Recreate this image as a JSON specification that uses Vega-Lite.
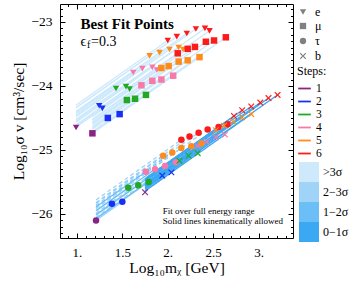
{
 "$schema": "https://vega.github.io/schema/vega-lite/v6.json",
 "width": 233, "height": 234,
 "autosize": {"type": "none"},
 "padding": {"left": 60, "top": 4, "right": 57, "bottom": 50},
 "config": {
  "view": {"stroke": "black", "strokeWidth": 1},
  "font": "Liberation Serif",
  "axis": {"grid": false, "domain": false, "tickColor": "black", "labelColor": "black", "titleColor": "black", "labelFont": "Liberation Serif", "titleFont": "Liberation Serif", "titleFontWeight": "normal"},
  "legend": {"labelFont": "Liberation Serif", "titleFont": "Liberation Serif", "labelFontSize": 12, "titleFontSize": 12, "titleFontWeight": "normal", "labelColor": "black", "titleColor": "black", "symbolBaseFillColor": "#808080", "symbolBaseStrokeColor": "transparent"},
  "text": {"font": "Liberation Serif", "color": "black"}
 },
 "resolve": {"axis": {"x": "independent", "y": "independent"}},
 "datasets": {
  "pts": [
   {"f":"e","s":"1","x":0.99,"y":-24.65,"x0":0.99,"y0":-24.65,"sig":">3σ","d":"solid"},
   {"f":"e","s":"2","x":1.245,"y":-24.31,"x0":0.99,"y0":-24.565,"sig":">3σ","d":"solid"},
   {"f":"e","s":"2","x":1.28,"y":-24.35,"x0":0.99,"y0":-24.64,"sig":">3σ","d":"solid"},
   {"f":"e","s":"3","x":1.43,"y":-24.04,"x0":0.99,"y0":-24.48,"sig":">3σ","d":"solid"},
   {"f":"e","s":"3","x":1.54,"y":-24.01,"x0":0.99,"y0":-24.56,"sig":">3σ","d":"solid"},
   {"f":"e","s":"3","x":1.58,"y":-24.05,"x0":0.99,"y0":-24.64,"sig":">3σ","d":"solid"},
   {"f":"e","s":"4","x":1.62,"y":-23.79,"x0":0.99,"y0":-24.42,"sig":">3σ","d":"solid"},
   {"f":"e","s":"4","x":1.72,"y":-23.73,"x0":0.99,"y0":-24.46,"sig":">3σ","d":"solid"},
   {"f":"e","s":"4","x":1.83,"y":-23.71,"x0":0.99,"y0":-24.55,"sig":">3σ","d":"solid"},
   {"f":"e","s":"4","x":1.88,"y":-23.75,"x0":0.99,"y0":-24.64,"sig":">3σ","d":"solid"},
   {"f":"e","s":"5","x":1.80,"y":-23.53,"x0":0.99,"y0":-24.34,"sig":">3σ","d":"solid"},
   {"f":"e","s":"5","x":1.91,"y":-23.48,"x0":0.99,"y0":-24.40,"sig":">3σ","d":"solid"},
   {"f":"e","s":"5","x":2.02,"y":-23.43,"x0":0.99,"y0":-24.46,"sig":">3σ","d":"solid"},
   {"f":"e","s":"5","x":2.12,"y":-23.40,"x0":0.99,"y0":-24.53,"sig":">3σ","d":"solid"},
   {"f":"e","s":"5","x":2.17,"y":-23.43,"x0":0.99,"y0":-24.61,"sig":">3σ","d":"solid"},
   {"f":"e","s":"6","x":2.00,"y":-23.29,"x0":0.99,"y0":-24.30,"sig":">3σ","d":"solid"},
   {"f":"e","s":"6","x":2.10,"y":-23.23,"x0":0.99,"y0":-24.34,"sig":">3σ","d":"solid"},
   {"f":"e","s":"6","x":2.21,"y":-23.18,"x0":0.99,"y0":-24.40,"sig":">3σ","d":"solid"},
   {"f":"e","s":"6","x":2.31,"y":-23.11,"x0":0.99,"y0":-24.43,"sig":">3σ","d":"solid"},
   {"f":"e","s":"6","x":2.41,"y":-23.10,"x0":0.99,"y0":-24.52,"sig":">3σ","d":"solid"},
   {"f":"e","s":"6","x":2.46,"y":-23.14,"x0":0.99,"y0":-24.61,"sig":">3σ","d":"solid"},
   {"f":"μ","s":"1","x":1.17,"y":-24.74,"x0":1.17,"y0":-24.74,"sig":">3σ","d":"solid"},
   {"f":"μ","s":"2","x":1.34,"y":-24.50,"x0":1.17,"y0":-24.67,"sig":">3σ","d":"solid"},
   {"f":"μ","s":"2","x":1.47,"y":-24.44,"x0":1.17,"y0":-24.74,"sig":">3σ","d":"solid"},
   {"f":"μ","s":"3","x":1.55,"y":-24.22,"x0":1.17,"y0":-24.60,"sig":">3σ","d":"solid"},
   {"f":"μ","s":"3","x":1.64,"y":-24.20,"x0":1.17,"y0":-24.67,"sig":">3σ","d":"solid"},
   {"f":"μ","s":"3","x":1.76,"y":-24.14,"x0":1.17,"y0":-24.73,"sig":">3σ","d":"solid"},
   {"f":"μ","s":"4","x":1.71,"y":-23.99,"x0":1.17,"y0":-24.53,"sig":">3σ","d":"solid"},
   {"f":"μ","s":"4","x":1.83,"y":-23.92,"x0":1.17,"y0":-24.58,"sig":">3σ","d":"solid"},
   {"f":"μ","s":"4","x":1.93,"y":-23.90,"x0":1.17,"y0":-24.66,"sig":">3σ","d":"solid"},
   {"f":"μ","s":"4","x":2.06,"y":-23.84,"x0":1.17,"y0":-24.73,"sig":">3σ","d":"solid"},
   {"f":"μ","s":"5","x":1.93,"y":-23.72,"x0":1.17,"y0":-24.48,"sig":">3σ","d":"solid"},
   {"f":"μ","s":"5","x":2.01,"y":-23.69,"x0":1.17,"y0":-24.53,"sig":">3σ","d":"solid"},
   {"f":"μ","s":"5","x":2.12,"y":-23.62,"x0":1.17,"y0":-24.57,"sig":">3σ","d":"solid"},
   {"f":"μ","s":"5","x":2.22,"y":-23.60,"x0":1.17,"y0":-24.65,"sig":">3σ","d":"solid"},
   {"f":"μ","s":"5","x":2.35,"y":-23.55,"x0":1.17,"y0":-24.73,"sig":">3σ","d":"solid"},
   {"f":"μ","s":"6","x":2.11,"y":-23.49,"x0":1.17,"y0":-24.43,"sig":">3σ","d":"solid"},
   {"f":"μ","s":"6","x":2.22,"y":-23.42,"x0":1.17,"y0":-24.47,"sig":">3σ","d":"solid"},
   {"f":"μ","s":"6","x":2.30,"y":-23.39,"x0":1.17,"y0":-24.52,"sig":">3σ","d":"solid"},
   {"f":"μ","s":"6","x":2.42,"y":-23.31,"x0":1.17,"y0":-24.56,"sig":">3σ","d":"solid"},
   {"f":"μ","s":"6","x":2.51,"y":-23.29,"x0":1.17,"y0":-24.63,"sig":">3σ","d":"solid"},
   {"f":"μ","s":"6","x":2.64,"y":-23.24,"x0":1.17,"y0":-24.71,"sig":">3σ","d":"solid"},
   {"f":"τ","s":"1","x":1.21,"y":-26.10,"x0":1.21,"y0":-26.10,"sig":"2−3σ","d":"solid"},
   {"f":"τ","s":"2","x":1.385,"y":-25.84,"x0":1.21,"y0":-26.015,"sig":"2−3σ","d":"solid"},
   {"f":"τ","s":"2","x":1.50,"y":-25.81,"x0":1.21,"y0":-26.10,"sig":"2−3σ","d":"solid"},
   {"f":"τ","s":"3","x":1.565,"y":-25.59,"x0":1.21,"y0":-25.945,"sig":"2−3σ","d":"solid"},
   {"f":"τ","s":"3","x":1.675,"y":-25.55,"x0":1.21,"y0":-26.015,"sig":"2−3σ","d":"solid"},
   {"f":"τ","s":"3","x":1.79,"y":-25.50,"x0":1.21,"y0":-26.08,"sig":"2−3σ","d":"solid"},
   {"f":"τ","s":"4","x":1.76,"y":-25.34,"x0":1.21,"y0":-25.89,"sig":"1−2σ","d":"solid"},
   {"f":"τ","s":"4","x":1.86,"y":-25.30,"x0":1.21,"y0":-25.95,"sig":"1−2σ","d":"solid"},
   {"f":"τ","s":"4","x":1.97,"y":-25.25,"x0":1.21,"y0":-26.01,"sig":"1−2σ","d":"solid"},
   {"f":"τ","s":"4","x":2.09,"y":-25.19,"x0":1.21,"y0":-26.07,"sig":"1−2σ","d":"solid"},
   {"f":"τ","s":"5","x":1.95,"y":-25.09,"x0":1.21,"y0":-25.83,"sig":"1−2σ","d":"dash"},
   {"f":"τ","s":"5","x":2.05,"y":-25.04,"x0":1.21,"y0":-25.88,"sig":"1−2σ","d":"dash"},
   {"f":"τ","s":"5","x":2.15,"y":-24.97,"x0":1.21,"y0":-25.91,"sig":"1−2σ","d":"dash"},
   {"f":"τ","s":"5","x":2.26,"y":-24.94,"x0":1.21,"y0":-25.99,"sig":"1−2σ","d":"dash"},
   {"f":"τ","s":"5","x":2.37,"y":-24.90,"x0":1.21,"y0":-26.06,"sig":"1−2σ","d":"dash"},
   {"f":"τ","s":"6","x":2.15,"y":-24.84,"x0":1.21,"y0":-25.78,"sig":"2−3σ","d":"dash"},
   {"f":"τ","s":"6","x":2.24,"y":-24.79,"x0":1.21,"y0":-25.82,"sig":"2−3σ","d":"dash"},
   {"f":"τ","s":"6","x":2.34,"y":-24.73,"x0":1.21,"y0":-25.86,"sig":"2−3σ","d":"dash"},
   {"f":"τ","s":"6","x":2.44,"y":-24.68,"x0":1.21,"y0":-25.91,"sig":"2−3σ","d":"dash"},
   {"f":"τ","s":"6","x":2.56,"y":-24.64,"x0":1.21,"y0":-25.99,"sig":"2−3σ","d":"dash"},
   {"f":"τ","s":"6","x":2.66,"y":-24.60,"x0":1.21,"y0":-26.05,"sig":"2−3σ","d":"dash"},
   {"f":"b","s":"1","x":1.75,"y":-25.66,"x0":1.75,"y0":-25.66,"sig":"1−2σ","d":"solid"},
   {"f":"b","s":"2","x":1.94,"y":-25.40,"x0":1.75,"y0":-25.59,"sig":"1−2σ","d":"solid"},
   {"f":"b","s":"2","x":2.04,"y":-25.35,"x0":1.75,"y0":-25.64,"sig":"1−2σ","d":"solid"},
   {"f":"b","s":"3","x":2.13,"y":-25.17,"x0":1.75,"y0":-25.55,"sig":"1−2σ","d":"solid"},
   {"f":"b","s":"3","x":2.23,"y":-25.09,"x0":1.75,"y0":-25.57,"sig":"1−2σ","d":"solid"},
   {"f":"b","s":"3","x":2.33,"y":-25.05,"x0":1.75,"y0":-25.63,"sig":"1−2σ","d":"solid"},
   {"f":"b","s":"4","x":2.33,"y":-24.94,"x0":1.75,"y0":-25.52,"sig":"0−1σ","d":"solid"},
   {"f":"b","s":"4","x":2.43,"y":-24.87,"x0":1.75,"y0":-25.55,"sig":"0−1σ","d":"solid"},
   {"f":"b","s":"4","x":2.53,"y":-24.80,"x0":1.75,"y0":-25.58,"sig":"0−1σ","d":"solid"},
   {"f":"b","s":"4","x":2.63,"y":-24.76,"x0":1.75,"y0":-25.64,"sig":"0−1σ","d":"solid"},
   {"f":"b","s":"5","x":2.53,"y":-24.69,"x0":1.75,"y0":-25.47,"sig":"0−1σ","d":"solid"},
   {"f":"b","s":"5","x":2.62,"y":-24.62,"x0":1.75,"y0":-25.49,"sig":"0−1σ","d":"solid"},
   {"f":"b","s":"5","x":2.72,"y":-24.56,"x0":1.75,"y0":-25.53,"sig":"0−1σ","d":"solid"},
   {"f":"b","s":"5","x":2.82,"y":-24.49,"x0":1.75,"y0":-25.56,"sig":"0−1σ","d":"solid"},
   {"f":"b","s":"5","x":2.92,"y":-24.44,"x0":1.75,"y0":-25.61,"sig":"0−1σ","d":"solid"},
   {"f":"b","s":"6","x":2.73,"y":-24.47,"x0":1.75,"y0":-25.45,"sig":"0−1σ","d":"solid"},
   {"f":"b","s":"6","x":2.82,"y":-24.38,"x0":1.75,"y0":-25.45,"sig":"0−1σ","d":"solid"},
   {"f":"b","s":"6","x":2.92,"y":-24.32,"x0":1.75,"y0":-25.49,"sig":"0−1σ","d":"solid"},
   {"f":"b","s":"6","x":3.02,"y":-24.26,"x0":1.75,"y0":-25.53,"sig":"0−1σ","d":"solid"},
   {"f":"b","s":"6","x":3.11,"y":-24.19,"x0":1.75,"y0":-25.55,"sig":"0−1σ","d":"solid"},
   {"f":"b","s":"6","x":3.21,"y":-24.14,"x0":1.75,"y0":-25.60,"sig":"0−1σ","d":"solid"}
  ]
 },
 "layer": [
  {
   "data": {"name": "pts"},
   "mark": {"type": "rule", "strokeWidth": 1.3},
   "encoding": {
    "x": {"field": "x0", "type": "quantitative", "scale": {"domain": [0.813, 3.38], "nice": false, "zero": false},
     "axis": {"orient": "bottom", "values": [1, 1.5, 2, 2.5, 3], "tickSize": -5, "labelPadding": 13, "labelFontSize": 13,
      "labelExpr": "floor(datum.value) == datum.value ? format(datum.value, 'd') + '.' : format(datum.value, '.1f')",
      "title": "Log₁₀mᵪ [GeV]", "titleFontSize": 15.5, "titlePadding": 1}},
    "x2": {"field": "x"},
    "y": {"field": "y0", "type": "quantitative", "scale": {"domain": [-26.375, -22.72], "nice": false, "zero": false},
     "axis": {"orient": "left", "values": [-26, -25, -24, -23], "tickSize": -5, "labelPadding": 13, "labelFontSize": 13.5,
      "title": "Log₁₀σ v [cm³/sec]", "titleFontSize": 15.5, "titlePadding": 4}},
    "y2": {"field": "y"},
    "stroke": {"field": "sig", "type": "nominal",
     "scale": {"domain": [">3σ", "2−3σ", "1−2σ", "0−1σ"], "range": ["#cde9fb", "#9fd4f8", "#6cbff6", "#3aa8f3"]},
     "legend": {"title": null, "orient": "none", "legendX": 239, "legendY": 158, "padding": 0, "symbolType": "square", "symbolSize": 400, "rowPadding": 0, "labelOffset": 4,
      "encode": {"symbols": {"update": {"fill": {"scale": "stroke", "field": "value"}, "strokeWidth": {"value": 0}}}}}},
    "strokeDash": {"field": "d", "type": "nominal", "scale": {"domain": ["solid", "dash"], "range": [[1, 0], [4, 3]]}, "legend": null}
   }
  },
  {
   "data": {"name": "pts"},
   "mark": {"type": "point", "filled": true, "opacity": 1, "size": 42, "strokeWidth": 0},
   "encoding": {
    "x": {"field": "x", "type": "quantitative", "scale": {"domain": [0.813, 3.38], "nice": false, "zero": false},
     "axis": {"orient": "bottom", "values": [0.9,1,1.1,1.2,1.3,1.4,1.5,1.6,1.7,1.8,1.9,2,2.1,2.2,2.3,2.4,2.5,2.6,2.7,2.8,2.9,3,3.1,3.2,3.3], "tickSize": -2.5, "labels": false, "title": null}},
    "y": {"field": "y", "type": "quantitative", "scale": {"domain": [-26.375, -22.72], "nice": false, "zero": false},
     "axis": {"orient": "left", "values": [-26.3,-26.2,-26.1,-26,-25.9,-25.8,-25.7,-25.6,-25.5,-25.4,-25.3,-25.2,-25.1,-25,-24.9,-24.8,-24.7,-24.6,-24.5,-24.4,-24.3,-24.2,-24.1,-24,-23.9,-23.8,-23.7,-23.6,-23.5,-23.4,-23.3,-23.2,-23.1,-23,-22.9,-22.8], "tickSize": -2.5, "labels": false, "title": null}},
    "fill": {"field": "s", "type": "nominal",
     "scale": {"domain": ["1", "2", "3", "4", "5", "6"], "range": ["#8a2388", "#1a2ef5", "#22a822", "#f779a8", "#ff8c1a", "#ff1a1a"]},
     "legend": {"title": "Steps:", "orient": "none", "legendX": 237, "legendY": 62, "padding": 0, "symbolType": "M-1,-0.14H1V0.14H-1Z", "symbolSize": 160, "rowPadding": 0, "titlePadding": 3, "labelOffset": 4, "labelFontSize": 11.5}},
    "shape": {"field": "f", "type": "nominal",
     "scale": {"domain": ["e", "μ", "τ", "b"], "range": ["triangle-down", "square", "circle", "M-1,-0.75L-0.75,-1L0,-0.25L0.75,-1L1,-0.75L0.25,0L1,0.75L0.75,1L0,0.25L-0.75,1L-1,0.75L-0.25,0Z"]},
     "legend": {"title": null, "orient": "none", "legendX": 237, "legendY": 2, "padding": 0, "symbolSize": 40, "rowPadding": 1, "labelOffset": 6, "symbolFillColor": "#808080"}}
   }
  },
  {
   "data": {"values": [{"t": "Best Fit Points", "x": 1.04, "y": -23.03}]},
   "mark": {"type": "text", "fontWeight": "bold", "fontSize": 15, "align": "left", "baseline": "middle"},
   "encoding": {
    "x": {"field": "x", "type": "quantitative", "scale": {"domain": [0.813, 3.38], "nice": false, "zero": false},
     "axis": {"orient": "top", "values": [1, 1.5, 2, 2.5, 3], "tickSize": -5, "labels": false, "title": null}},
    "y": {"field": "y", "type": "quantitative", "scale": {"domain": [-26.375, -22.72], "nice": false, "zero": false},
     "axis": {"orient": "right", "values": [-26, -25, -24, -23], "tickSize": -5, "labels": false, "title": null}},
    "text": {"field": "t"}
   }
  },
  {
   "data": {"values": [{"t": "Fit over full energy range", "x": 1.944, "y": -25.95}, {"t": "Solid lines kinematically allowed", "x": 1.944, "y": -26.11}]},
   "mark": {"type": "text", "fontSize": 9, "align": "left", "baseline": "middle"},
   "encoding": {
    "x": {"field": "x", "type": "quantitative", "scale": {"domain": [0.813, 3.38], "nice": false, "zero": false},
     "axis": {"orient": "top", "values": [0.9,1,1.1,1.2,1.3,1.4,1.5,1.6,1.7,1.8,1.9,2,2.1,2.2,2.3,2.4,2.5,2.6,2.7,2.8,2.9,3,3.1,3.2,3.3], "tickSize": -2.5, "labels": false, "title": null}},
    "y": {"field": "y", "type": "quantitative", "scale": {"domain": [-26.375, -22.72], "nice": false, "zero": false},
     "axis": {"orient": "right", "values": [-26.3,-26.2,-26.1,-26,-25.9,-25.8,-25.7,-25.6,-25.5,-25.4,-25.3,-25.2,-25.1,-25,-24.9,-24.8,-24.7,-24.6,-24.5,-24.4,-24.3,-24.2,-24.1,-24,-23.9,-23.8,-23.7,-23.6,-23.5,-23.4,-23.3,-23.2,-23.1,-23,-22.9,-22.8], "tickSize": -2.5, "labels": false, "title": null}},
    "text": {"field": "t"}
   }
  },
  {
   "data": {"values": [{"t": "ϵ", "x": 1.04, "y": -23.31}]},
   "mark": {"type": "text", "fontSize": 14, "align": "left", "baseline": "middle"},
   "encoding": {
    "x": {"field": "x", "type": "quantitative", "scale": {"domain": [0.813, 3.38], "nice": false, "zero": false}, "axis": null},
    "y": {"field": "y", "type": "quantitative", "scale": {"domain": [-26.375, -22.72], "nice": false, "zero": false}, "axis": null},
    "text": {"field": "t"}
   }
  },
  {
   "data": {"values": [{"t": "f", "x": 1.04, "y": -23.31}]},
   "mark": {"type": "text", "fontSize": 10, "align": "left", "baseline": "middle", "dx": 6.5, "dy": 3},
   "encoding": {
    "x": {"field": "x", "type": "quantitative", "scale": {"domain": [0.813, 3.38], "nice": false, "zero": false}, "axis": null},
    "y": {"field": "y", "type": "quantitative", "scale": {"domain": [-26.375, -22.72], "nice": false, "zero": false}, "axis": null},
    "text": {"field": "t"}
   }
  },
  {
   "data": {"values": [{"t": "=0.3", "x": 1.04, "y": -23.31}]},
   "mark": {"type": "text", "fontSize": 14, "align": "left", "baseline": "middle", "dx": 10.5},
   "encoding": {
    "x": {"field": "x", "type": "quantitative", "scale": {"domain": [0.813, 3.38], "nice": false, "zero": false}, "axis": null},
    "y": {"field": "y", "type": "quantitative", "scale": {"domain": [-26.375, -22.72], "nice": false, "zero": false}, "axis": null},
    "text": {"field": "t"}
   }
  }
 ]
}
